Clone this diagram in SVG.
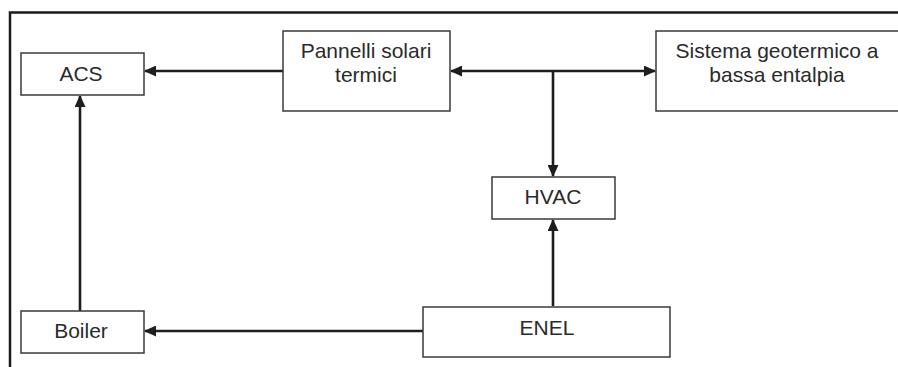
<svg xmlns="http://www.w3.org/2000/svg" width="898" height="367" viewBox="0 0 898 367">
<style>
.box{fill:#fff;stroke:#3a3a3a;stroke-width:1.5}
.t{font-family:"Liberation Sans",Arial,sans-serif;font-size:21px;fill:#2a2a2a;text-anchor:middle}
.c{fill:none;stroke:#1e1e1e;stroke-width:2.6}
.frame{fill:none;stroke:#1a1a1a;stroke-width:2.5}
</style>
<defs>
<marker id="ah" markerWidth="12" markerHeight="11" refX="11" refY="5.5" orient="auto-start-reverse" markerUnits="userSpaceOnUse">
<path d="M0,0 L12,5.5 L0,11 Z" fill="#1e1e1e"/>
</marker>
</defs>
<rect width="898" height="367" fill="#fff"/>
<path class="frame" d="M10,367 V12.5 H898"/>
<g id="connectors">
<line class="c" x1="283" y1="71" x2="145" y2="71" marker-end="url(#ah)"/>
<line class="c" x1="451" y1="71" x2="655" y2="71" marker-start="url(#ah)" marker-end="url(#ah)"/>
<line class="c" x1="553" y1="71" x2="553" y2="176" marker-end="url(#ah)"/>
<line class="c" x1="553" y1="306" x2="553" y2="220" marker-end="url(#ah)"/>
<line class="c" x1="423" y1="331" x2="145" y2="331" marker-end="url(#ah)"/>
<line class="c" x1="80" y1="311" x2="80" y2="96" marker-end="url(#ah)"/>
</g>
<g id="acs">
<rect class="box" x="21" y="53" width="123" height="42"/>
<text class="t" x="81" y="81">ACS</text>
</g>
<g id="pannelli">
<rect class="box" x="283" y="31" width="167" height="80"/>
<text class="t" x="366" y="58">Pannelli solari</text>
<text class="t" x="366" y="82">termici</text>
</g>
<g id="geotermico">
<rect class="box" x="656" y="31" width="250" height="80"/>
<text class="t" x="777" y="58">Sistema geotermico a</text>
<text class="t" x="777" y="82">bassa entalpia</text>
</g>
<g id="hvac">
<rect class="box" x="492" y="177" width="123" height="42"/>
<text class="t" x="553" y="204">HVAC</text>
</g>
<g id="boiler">
<rect class="box" x="21" y="311" width="123" height="42"/>
<text class="t" x="81" y="338">Boiler</text>
</g>
<g id="enel">
<rect class="box" x="423" y="307" width="247" height="50"/>
<text class="t" x="547" y="335">ENEL</text>
</g>
</svg>
